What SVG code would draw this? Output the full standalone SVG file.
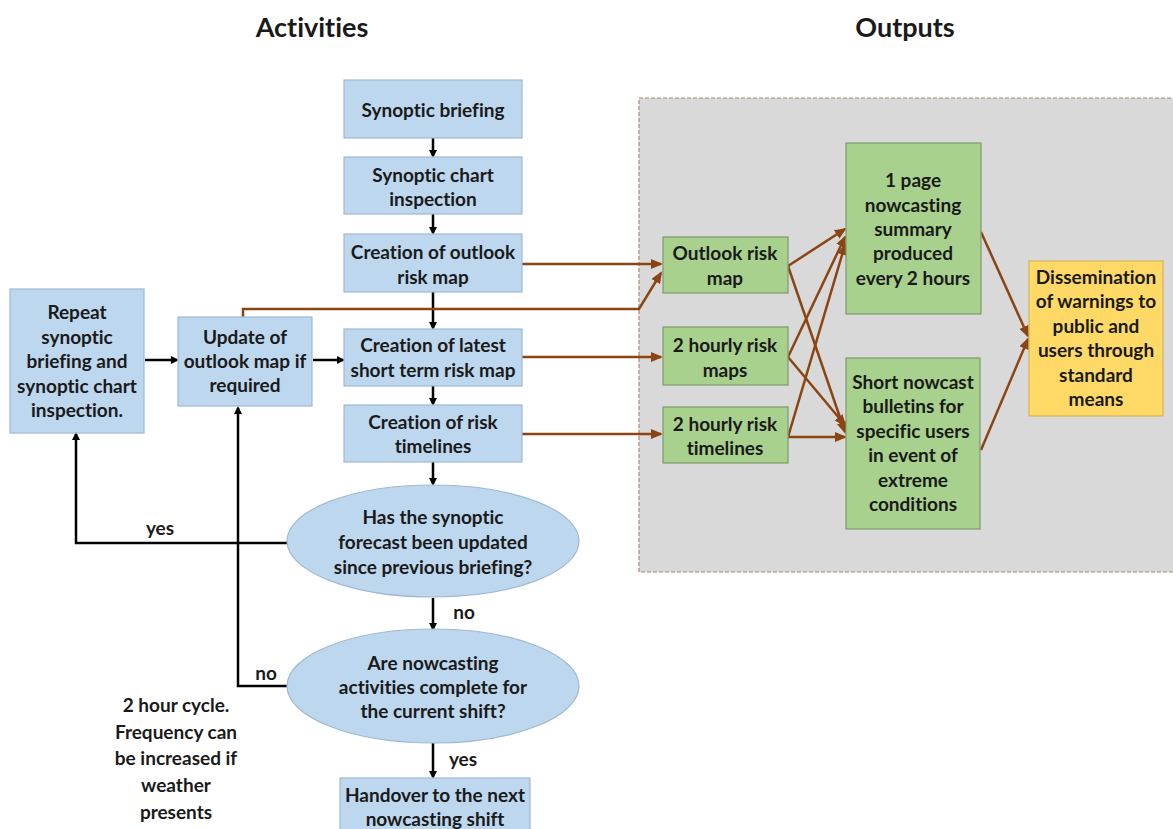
<svg xmlns="http://www.w3.org/2000/svg" width="1173" height="829" viewBox="0 0 1173 829">
<style>
text{font-family:Lato,"Open Sans","Liberation Sans",sans-serif;font-weight:bold;fill:#1a1a1a;text-anchor:middle;font-variant-ligatures:none}
.t{font-size:19px}
.h{font-size:27px}
.b{fill:#bdd7ee;stroke:#9fb9d3;stroke-width:1.2}
.g{fill:#a9d18e;stroke:#7d9a6a;stroke-width:1.2}
.y{fill:#ffd966;stroke:#d4b45a;stroke-width:1.2}
.k{stroke:#000;stroke-width:2.5;fill:none}
.o{stroke:#8b4513;stroke-width:2.5;fill:none}
</style>
<defs>
<marker id="ak" markerWidth="8" markerHeight="8" refX="6" refY="4" orient="auto" markerUnits="userSpaceOnUse"><path d="M0,0 L8,4 L0,8 z" fill="#000"/></marker>
<marker id="ao" markerWidth="12" markerHeight="10" refX="10" refY="5" orient="auto" markerUnits="userSpaceOnUse"><path d="M0,0 L12,5 L0,10 z" fill="#8b4513"/></marker>
</defs>
<rect width="1173" height="829" fill="#fff"/>
<text class="h" x="312" y="37">Activities</text>
<text class="h" x="905" y="37">Outputs</text>
<rect id="panel" x="639" y="98" width="540" height="474" fill="#d9d9d9" stroke="#a88a72" stroke-width="1.2" stroke-dasharray="4,2"/>

<g id="connectors">
<line class="k" x1="433" y1="138" x2="433" y2="156" marker-end="url(#ak)"/>
<line class="k" x1="433" y1="214" x2="433" y2="233" marker-end="url(#ak)"/>
<line class="k" x1="433" y1="292" x2="433" y2="328" marker-end="url(#ak)"/>
<line class="k" x1="433" y1="386" x2="433" y2="404" marker-end="url(#ak)"/>
<line class="k" x1="433" y1="462" x2="433" y2="484" marker-end="url(#ak)"/>
<line class="k" x1="433" y1="598" x2="433" y2="629" marker-end="url(#ak)"/>
<line class="k" x1="433" y1="743" x2="433" y2="777" marker-end="url(#ak)"/>
<line class="k" x1="145" y1="360" x2="177" y2="360" marker-end="url(#ak)"/>
<line class="k" x1="313" y1="360" x2="343" y2="360" marker-end="url(#ak)"/>
<polyline class="k" points="287,543 76,543 76,434" marker-end="url(#ak)"/>
<polyline class="k" points="287,686 238,686 238,408" marker-end="url(#ak)"/>
<text class="t" x="160" y="535">yes</text>
<text class="t" x="464" y="619">no</text>
<text class="t" x="266" y="680">no</text>
<text class="t" x="463" y="766">yes</text>

<line class="o" x1="522" y1="264" x2="661" y2="264" marker-end="url(#ao)"/>
<polyline class="o" points="243,317 243,309 639,309 661,273" marker-end="url(#ao)"/>
<line class="o" x1="522" y1="357" x2="661" y2="357" marker-end="url(#ao)"/>
<line class="o" x1="522" y1="434" x2="661" y2="434" marker-end="url(#ao)"/>

<line class="o" x1="788" y1="266" x2="845" y2="229" marker-end="url(#ao)"/>
<line class="o" x1="788" y1="266" x2="845" y2="432" marker-end="url(#ao)"/>
<line class="o" x1="788" y1="357" x2="845" y2="237" marker-end="url(#ao)"/>
<line class="o" x1="788" y1="357" x2="845" y2="425" marker-end="url(#ao)"/>
<line class="o" x1="788" y1="437" x2="845" y2="245" marker-end="url(#ao)"/>
<line class="o" x1="788" y1="437" x2="845" y2="437" marker-end="url(#ao)"/>
<line class="o" x1="981" y1="232" x2="1028" y2="336" marker-end="url(#ao)"/>
<line class="o" x1="981" y1="450" x2="1028" y2="339" marker-end="url(#ao)"/>
</g>

<g id="synoptic-briefing"><rect class="b" x="344" y="80" width="178" height="58"/><text class="t" x="433" y="117">Synoptic briefing</text></g>
<g id="synoptic-chart"><rect class="b" x="344" y="157" width="178" height="57"/><text class="t" x="433" y="182">Synoptic chart</text><text class="t" x="433" y="206">inspection</text></g>
<g id="outlook-creation"><rect class="b" x="344" y="234" width="178" height="58"/><text class="t" x="433" y="259">Creation of outlook</text><text class="t" x="433" y="284">risk map</text></g>
<g id="latest-creation"><rect class="b" x="344" y="329" width="178" height="57"/><text class="t" x="433" y="352">Creation of latest</text><text class="t" x="433" y="377">short term risk map</text></g>
<g id="timelines-creation"><rect class="b" x="344" y="405" width="178" height="57"/><text class="t" x="433" y="429">Creation of risk</text><text class="t" x="433" y="453">timelines</text></g>
<g id="repeat"><rect class="b" x="10" y="289" width="134" height="144"/>
<text class="t" x="77" y="319">Repeat</text><text class="t" x="77" y="344">synoptic</text><text class="t" x="77" y="368">briefing and</text><text class="t" x="77" y="393">synoptic chart</text><text class="t" x="77" y="417">inspection.</text></g>
<g id="update"><rect class="b" x="178" y="317" width="134" height="89"/>
<text class="t" x="245" y="344">Update of</text><text class="t" x="245" y="368">outlook map if</text><text class="t" x="245" y="392">required</text></g>
<g id="decision-1"><ellipse class="b" cx="433" cy="541" rx="146" ry="56"/>
<text class="t" x="433" y="524">Has the synoptic</text><text class="t" x="433" y="549">forecast been updated</text><text class="t" x="433" y="574">since previous briefing?</text></g>
<g id="decision-2"><ellipse class="b" cx="433" cy="686" rx="146" ry="57"/>
<text class="t" x="433" y="670">Are nowcasting</text><text class="t" x="433" y="694">activities complete for</text><text class="t" x="433" y="718">the current shift?</text></g>
<g id="handover"><rect class="b" x="340" y="778" width="190" height="60"/>
<text class="t" x="435" y="802">Handover to the next</text><text class="t" x="435" y="826">nowcasting shift</text></g>
<g id="note"><text class="t" x="176" y="712">2 hour cycle.</text><text class="t" x="176" y="739">Frequency can</text><text class="t" x="176" y="765">be increased if</text><text class="t" x="176" y="792">weather</text><text class="t" x="176" y="819">presents</text></g>

<g id="outlook-risk-map"><rect class="g" x="663" y="237" width="125" height="56"/><text class="t" x="725" y="260">Outlook risk</text><text class="t" x="725" y="285">map</text></g>
<g id="hourly-maps"><rect class="g" x="663" y="327" width="125" height="58"/><text class="t" x="725" y="352">2 hourly risk</text><text class="t" x="725" y="377">maps</text></g>
<g id="hourly-timelines"><rect class="g" x="663" y="407" width="125" height="56"/><text class="t" x="725" y="431">2 hourly risk</text><text class="t" x="725" y="455">timelines</text></g>
<g id="summary"><rect class="g" x="846" y="143" width="135" height="171"/>
<text class="t" x="913" y="187">1 page</text><text class="t" x="913" y="212">nowcasting</text><text class="t" x="913" y="236">summary</text><text class="t" x="913" y="260">produced</text><text class="t" x="913" y="285">every 2 hours</text></g>
<g id="bulletins"><rect class="g" x="846" y="358" width="134" height="171"/>
<text class="t" x="913" y="389">Short nowcast</text><text class="t" x="913" y="413">bulletins for</text><text class="t" x="913" y="438">specific users</text><text class="t" x="913" y="462">in event of</text><text class="t" x="913" y="487">extreme</text><text class="t" x="913" y="511">conditions</text></g>
<g id="dissemination"><rect class="y" x="1029" y="261" width="134" height="155"/>
<text class="t" x="1096" y="284">Dissemination</text><text class="t" x="1096" y="308">of warnings to</text><text class="t" x="1096" y="333">public and</text><text class="t" x="1096" y="357">users through</text><text class="t" x="1096" y="382">standard</text><text class="t" x="1096" y="406">means</text></g>
</svg>
